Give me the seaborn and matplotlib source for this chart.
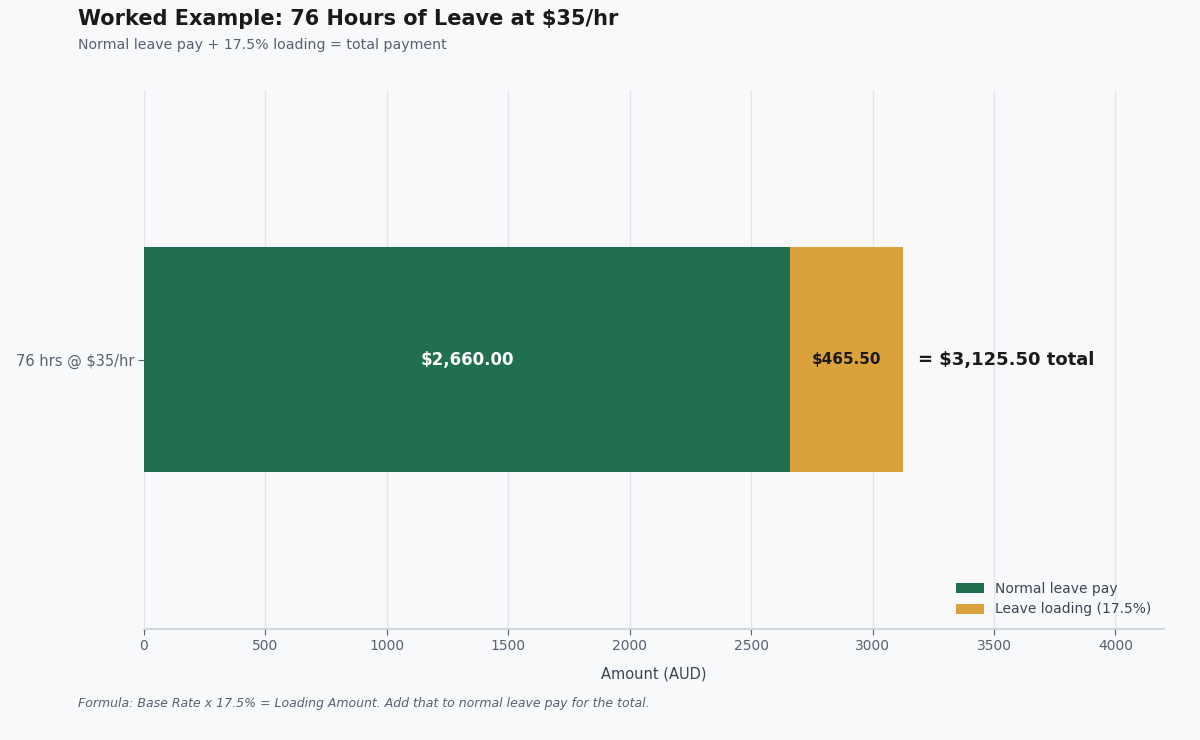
import matplotlib
matplotlib.use("Agg")
import matplotlib.pyplot as plt
import seaborn as sns
import pandas as pd

sns.set_theme(style="whitegrid")
plt.rcParams['font.family'] = ['DejaVu Sans']

# data
category = ["76 hrs @ $35/hr"]
normal_pay = [2660.00]
loading = [465.50]
series_labels = ["Normal leave pay", "Leave loading (17.5%)"]

GREEN = "#206f50"
GOLD = "#d9a23b"
BG = "#f8f9fb"

total = [n + l for n, l in zip(normal_pay, loading)]
df = pd.DataFrame({"cat": category, "normal": normal_pay, "loading": loading, "total": total})

fig = plt.figure(figsize=(12, 7.4), dpi=100, facecolor=BG)
ax = fig.add_axes([0.12, 0.15, 0.85, 0.728])
ax.set_facecolor(BG)

# stacked: draw total in gold, normal on top in green
sns.barplot(data=df, x="total", y="cat", color=GOLD, width=0.5, ax=ax,
            label=series_labels[1], saturation=1, linewidth=0)
sns.barplot(data=df, x="normal", y="cat", color=GREEN, width=0.5, ax=ax,
            label=series_labels[0], saturation=1, linewidth=0)

for i, row in df.iterrows():
    ax.text(row["normal"] / 2, i, f"${row['normal']:,.2f}", ha="center", va="center",
            color="white", fontsize=12, fontweight="bold")
    ax.text(row["normal"] + row["loading"] / 2, i, f"${row['loading']:,.2f}", ha="center",
            va="center", color="#1a1a1a", fontsize=11, fontweight="bold")
    ax.text(row["total"] + 60, i, f"= ${row['total']:,.2f} total", ha="left", va="center",
            color="#1a1a1a", fontsize=13, fontweight="bold")

ax.set_xlim(0, 4200)
ax.set_ylim(0.6, -0.6)
ax.set_xticks(range(0, 4001, 500))
ax.set_xlabel("Amount (AUD)", fontsize=10.5, color="#3d4452", labelpad=10)
ax.set_ylabel("")
ax.grid(axis="x", color="#e3e5ea", linewidth=1)
ax.grid(axis="y", visible=False)
ax.set_axisbelow(True)
for s in ["top", "right", "left"]:
    ax.spines[s].set_visible(False)
ax.spines["bottom"].set_color("#cfd3da")
ax.tick_params(axis="x", bottom=True, colors="#5a6070", labelsize=10, length=4, width=0.8, pad=3)
ax.tick_params(axis="y", left=True, colors="#5a6070", labelsize=10.5, length=4, width=0.8, pad=3)

handles, labels = ax.get_legend_handles_labels()
order = [labels.index(series_labels[0]), labels.index(series_labels[1])]
leg = ax.legend([handles[k] for k in order], [labels[k] for k in order], loc="lower right",
                frameon=False, fontsize=10, labelcolor="#3d4452")

fig.text(0.065, 0.988, "Worked Example: 76 Hours of Leave at $35/hr", fontsize=15,
         fontweight="bold", color="#1a1a1a", va="top")
fig.text(0.065, 0.949, "Normal leave pay + 17.5% loading = total payment", fontsize=10.2,
         color="#5a6070", va="top")
fig.text(0.065, 0.05, "Formula: Base Rate x 17.5% = Loading Amount. Add that to normal leave pay for the total.",
         fontsize=9, style="italic", color="#5a6070", va="center")

fig.savefig("out.png", dpi=100, facecolor=BG)
